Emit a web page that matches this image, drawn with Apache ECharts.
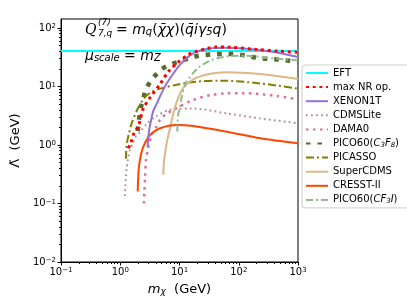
<!DOCTYPE html>
<html><head><meta charset="utf-8">
<script src="https://cdn.jsdelivr.net/npm/echarts@6/dist/echarts.min.js"></script>
<style>html,body{margin:0;padding:0;background:#fff}#c{width:407px;height:308px}</style>
</head><body><div id="c"></div>
<script>
// tick exponents (log10)
const xMajor = [-1, 0, 1, 2, 3];
const yMajor = [-2, -1, 0, 1, 2];
// curves: [m_chi (GeV), Lambda (GeV)]
const eft = [[0.1, 40.4], [1000, 40.4]];
const maxNR = [[1.37,0.88],[1.45,1.0],[1.56,1.2],[1.71,1.6],[2.02,2.1],[2.45,4.2],[3.2,6.5],[4.7,11],[6.5,18],[9.5,26],[14,35],[19.5,40],[30,45],[42,47.5],[70,47],[200,43],[500,40],[1000,38.5]];
const xenon = [[2.9,0.91],[2.95,1.2],[3.05,1.7],[3.3,2.6],[3.6,3.8],[4.1,5.0],[5,7.8],[6,11],[8,17],[10,23],[15,34],[22,41],[35,45],[60,46],[100,45],[230,42],[500,37],[1000,32]];
const cdmsLite = [[1.2,0.134],[1.22,0.2],[1.25,0.3],[1.28,0.4],[1.36,0.6],[1.46,0.82],[1.6,1.05],[1.8,1.35],[2.3,1.8],[2.8,2.3],[4,3.1],[7,4.0],[17,4.2],[60,3.5],[230,2.85],[1000,2.35]];
const dama = [[2.51,0.1],[2.55,0.15],[2.62,0.27],[2.72,0.55],[3.0,0.94],[3.4,1.48],[4.1,2.06],[4.7,2.7],[6,3.4],[9,4.3],[17,5.9],[33,7.1],[60,7.6],[120,7.7],[440,6.9],[1000,6.0]];
const picoC3F8 = [[1.97,1.73],[2.07,2.67],[2.21,4.2],[2.45,6.3],[2.79,9.5],[3.6,14],[5,19.7],[7.2,24],[10.2,27],[17,32],[25,34.5],[40,35.5],[63,36],[97,35.5],[155,32.5],[230,30.5],[360,29.5],[570,28.4],[1000,26.5]];
const picasso = [[1.25,0.58],[1.27,0.9],[1.33,1.25],[1.41,1.6],[1.56,2.35],[2.0,4.3],[2.5,6.2],[3.2,7.8],[4.7,9.2],[9,10.7],[17,12],[50,12.6],[230,11.3],[1000,9.2]];
const superCDMS = [[5.33,0.31],[5.45,0.5],[5.7,0.72],[6.2,1.2],[6.9,1.9],[7.6,3.0],[9,5.5],[11.6,9.5],[17,13.3],[33,16.5],[60,17.6],[230,16.4],[1000,13.5]];
const cresst = [[1.97,0.16],[2.0,0.25],[2.07,0.43],[2.25,0.7],[2.45,0.94],[3.18,1.48],[4.7,1.93],[9,2.2],[17,2.11],[63,1.69],[230,1.3],[1000,1.07]];
const picoCF3I = [[9.2,1.7],[9.3,2.5],[9.6,3.5],[10.2,4.5],[11,7],[11.9,9.5],[13.2,12.2],[15,14.5],[17,17],[22,22],[37,29],[70,33],[140,33.5],[300,31],[1000,28]];

const L = d => d.map(p => [Math.log10(p[0]), Math.log10(p[1])]);
function minorTicks(a, b) {
  const r = [];
  for (let n = a; n < b; n++) for (let k = 2; k <= 9; k++) r.push(Math.log10(k) + n);
  return r;
}
const YMAX = Math.log10(142.6);
const FONT = 'DejaVu Sans';
const expFmt = v => { const e = Math.round(v); return '{b|10}{s|' + (e < 0 ? '\u2212' + (-e) : e) + '}'; };
const tickRich = { b: { fontSize: 10, fontFamily: FONT, color: '#000' }, s: { fontSize: 7, fontFamily: FONT, color: '#000', verticalAlign: 'top' } };

function ser(name, data, color, width, type, z) {
  return { name, type: 'line', data: L(data), showSymbol: false, symbol: 'none', smooth: 0.3, z: z || 2,
    lineStyle: { color, width, type: type || 'solid', cap: 'butt' }, itemStyle: { color } };
}
const series = [
  ser('EFT', eft, '#00ffff', 2, 'solid'),
  ser('max NR op.', maxNR, '#ff0000', 3, [3, 3.7], 4),
  ser('XENON1T', xenon, '#9370DB', 2, 'solid', 3),
  ser('CDMSLite', cdmsLite, '#BC8F8F', 2, [1.8, 3.2]),
  ser('DAMA0', dama, '#DB7093', 2.5, [2.5, 4.5]),
  ser('PICO60(C3F8)', picoC3F8, '#556B2F', 4.5, [4.5, 7]),
  ser('PICASSO', picasso, '#808000', 2, [8, 3, 2, 3]),
  ser('SuperCDMS', superCDMS, '#DEB887', 2, 'solid'),
  ser('CRESST-II', cresst, '#FF4500', 2, 'solid'),
  ser('PICO60(CF3I)', picoCF3I, '#8FBC8F', 2, [7, 3, 2, 3])
];
const legendFmt = {
  'PICO60(C3F8)': '{n|PICO60(}{i|C}{s|3}{i|F}{s|8}{n|)}',
  'PICO60(CF3I)': '{n|PICO60(}{i|CF}{s|3}{i|I}{n|)}'
};
const chart = echarts.init(document.getElementById('c'), null, { renderer: 'canvas' });
chart.setOption({
  animation: false,
  backgroundColor: '#fff',
  grid: { left: 61, right: 109, top: 19, bottom: 46, show: true, borderColor: '#000', borderWidth: 1, backgroundColor: 'transparent' },
  xAxis: [
    { type: 'value', min: -1, max: 3, position: 'bottom',
      axisLine: { onZero: false, lineStyle: { color: '#000', width: 1 } },
      axisTick: { customValues: xMajor, length: 3.5, lineStyle: { color: '#000' } },
      axisLabel: { customValues: xMajor, formatter: expFmt, rich: tickRich, margin: 5 },
      splitLine: { show: false },
      name: '{i|m}{sub|\u03c7}{n|  (GeV)}', nameLocation: 'middle', nameGap: 21,
      nameTextStyle: { rich: { i: { fontSize: 13, fontFamily: FONT, fontStyle: 'italic', color: '#000' }, sub: { fontSize: 9, fontFamily: FONT, fontStyle: 'italic', color: '#000', verticalAlign: 'bottom' }, n: { fontSize: 13, fontFamily: FONT, color: '#000' } } } },
    { type: 'value', min: -1, max: 3, position: 'bottom', axisLine: { show: false, onZero: false },
      axisTick: { customValues: minorTicks(-1, 3), length: 2, lineStyle: { color: '#000' } },
      axisLabel: { show: false }, splitLine: { show: false } }
  ],
  yAxis: [
    { type: 'value', min: -2, max: YMAX, position: 'left',
      axisLine: { onZero: false, lineStyle: { color: '#000', width: 1 } },
      axisTick: { customValues: yMajor, length: 3.5, lineStyle: { color: '#000' } },
      axisLabel: { customValues: yMajor, formatter: expFmt, rich: tickRich, margin: 5 },
      splitLine: { show: false },
      name: '\u039b\u0303  (GeV)', nameLocation: 'middle', nameGap: 38, nameRotate: 90,
      nameTextStyle: { fontSize: 13, fontFamily: FONT, color: '#000' } },
    { type: 'value', min: -2, max: YMAX, position: 'left', axisLine: { show: false, onZero: false },
      axisTick: { customValues: minorTicks(-2, 2), length: 2, lineStyle: { color: '#000' } },
      axisLabel: { show: false }, splitLine: { show: false } }
  ],
  legend: {
    orient: 'vertical', left: 302, top: 65, itemWidth: 22, itemHeight: 10, itemGap: 4.1,
    padding: [3, 14, 3, 3], borderColor: '#ccc', borderWidth: 1, borderRadius: 3,
    backgroundColor: 'rgba(255,255,255,0.85)',
    itemStyle: { opacity: 0, borderWidth: 0 },
    textStyle: { fontSize: 10, fontFamily: FONT, color: '#000',
      rich: { n: { fontSize: 10, fontFamily: FONT, color: '#000' }, i: { fontSize: 10, fontFamily: FONT, fontStyle: 'italic', color: '#000' }, s: { fontSize: 7, fontFamily: FONT, fontStyle: 'italic', color: '#000', verticalAlign: 'bottom' } } },
    formatter: n => legendFmt[n] || n,
    data: series.map(s => s.name)
  },
  graphic: [
    { type: 'text', x: 85, y: 30, style: { text: 'Q', font: 'italic 14px "DejaVu Serif"', fill: '#000', verticalAlign: 'middle' } },
    { type: 'text', x: 98, y: 22.5, style: { text: '(7)', font: 'italic 9px "DejaVu Sans"', fill: '#000', verticalAlign: 'middle' } },
    { type: 'text', x: 98, y: 34, style: { text: '7,q', font: 'italic 9px "DejaVu Sans"', fill: '#000', verticalAlign: 'middle' } },
    { type: 'text', x: 116, y: 30, style: { text: '{n|= }{i|m}{sub|q}{n|(}{i|\u03c7\u0304\u03c7}{n|)(}{i|q\u0304i\u03b3}{sub|5}{i|q}{n|)}', verticalAlign: 'middle',
      rich: { n: { fontSize: 14, fontFamily: FONT, fill: '#000' }, i: { fontSize: 14, fontFamily: FONT, fontStyle: 'italic', fill: '#000' }, sub: { fontSize: 10, fontFamily: FONT, fontStyle: 'italic', fill: '#000', verticalAlign: 'bottom' } } } },
    { type: 'text', x: 85, y: 56, style: { text: '{i|\u03bc}{sub|scale}{n| = }{i|m}{sub|Z}', verticalAlign: 'middle',
      rich: { n: { fontSize: 14, fontFamily: FONT, fill: '#000' }, i: { fontSize: 14, fontFamily: FONT, fontStyle: 'italic', fill: '#000' }, sub: { fontSize: 10, fontFamily: FONT, fontStyle: 'italic', fill: '#000', verticalAlign: 'bottom' } } } }
  ],
  series
});
</script></body></html>
